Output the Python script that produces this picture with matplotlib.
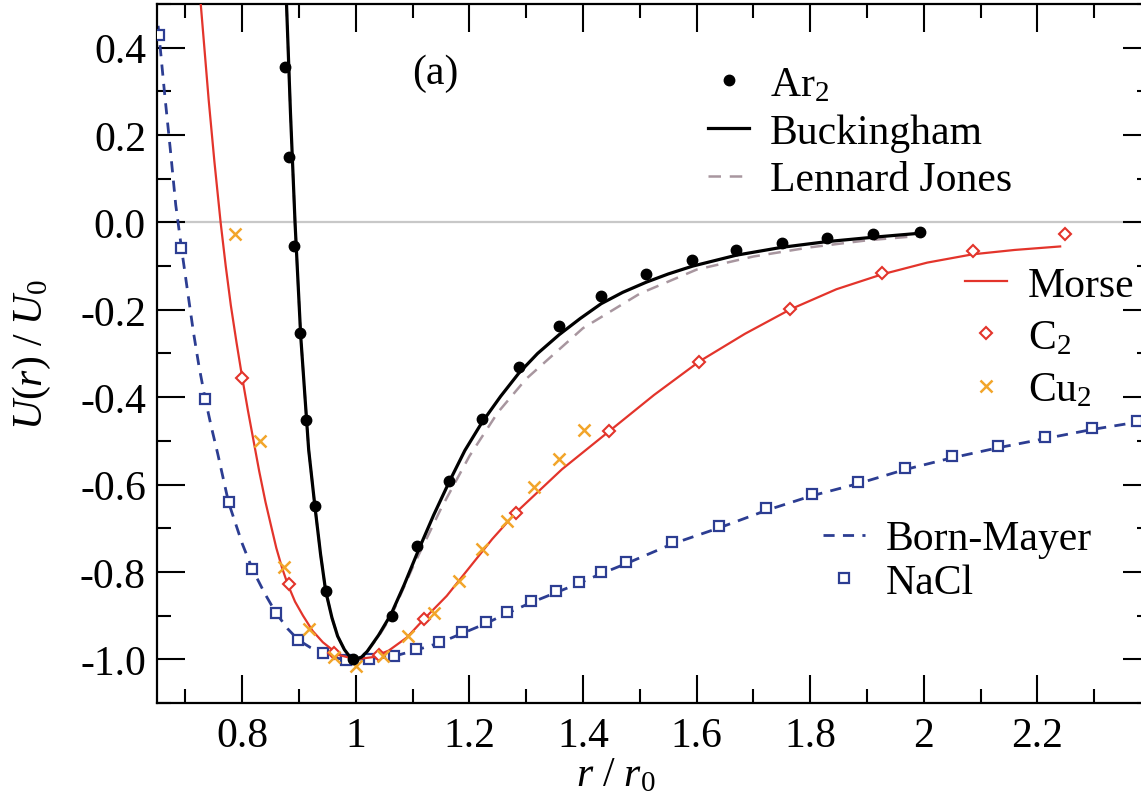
import matplotlib
matplotlib.use("Agg")
import matplotlib.pyplot as plt
from matplotlib.ticker import MultipleLocator, FuncFormatter

plt.rcParams['font.family'] = ['Liberation Serif', 'DejaVu Serif']
plt.rcParams['mathtext.fontset'] = 'custom'
plt.rcParams['mathtext.rm'] = 'Liberation Serif'
plt.rcParams['mathtext.it'] = 'Liberation Serif:italic'
plt.rcParams['axes.unicode_minus'] = False

# ---- data ----
ar2_r = [0.876, 0.883, 0.891, 0.902, 0.913, 0.928, 0.947, 0.995, 1.064, 1.108, 1.164, 1.222,
         1.287, 1.358, 1.432, 1.511, 1.592, 1.67, 1.75, 1.829, 1.91, 1.993]
ar2_u = [0.355, 0.149, -0.055, -0.252, -0.453, -0.65, -0.844, -1.0, -0.90, -0.741, -0.593, -0.451,
         -0.332, -0.238, -0.169, -0.119, -0.087, -0.062, -0.046, -0.035, -0.026, -0.021]

buck_r = [0.878, 0.885, 0.893, 0.903, 0.917, 0.928, 0.938, 0.947, 0.958, 0.968, 0.98, 0.99, 1.0,
          1.01, 1.02, 1.04, 1.062, 1.085, 1.111, 1.137, 1.164, 1.192, 1.222, 1.255, 1.287, 1.32,
          1.358, 1.395, 1.432, 1.47, 1.511, 1.55, 1.593, 1.67, 1.75, 1.829, 1.91, 2.0]
buck_u = [0.50, 0.25, 0.0, -0.26, -0.52, -0.65, -0.76, -0.844, -0.905, -0.947, -0.978, -0.995, -1.0,
          -0.995, -0.982, -0.945, -0.897, -0.83, -0.748, -0.67, -0.595, -0.522, -0.458, -0.398, -0.345, -0.30,
          -0.257, -0.22, -0.186, -0.16, -0.137, -0.118, -0.10, -0.075, -0.057, -0.044, -0.034, -0.024]

lj_r = [0.878, 0.885, 0.893, 0.903, 0.917, 0.928, 0.938, 0.947, 0.958, 0.968, 0.98, 0.99, 1.0,
        1.01, 1.02, 1.04, 1.062, 1.1, 1.15, 1.2, 1.25, 1.3, 1.4, 1.5, 1.6, 1.7, 1.8, 1.9, 2.0]
lj_u = [0.50, 0.25, 0.0, -0.26, -0.52, -0.65, -0.76, -0.844, -0.905, -0.947, -0.978, -0.995, -1.0,
        -0.995, -0.983, -0.948, -0.902, -0.79, -0.655, -0.535, -0.435, -0.358, -0.242, -0.163, -0.108,
        -0.078, -0.057, -0.041, -0.030]

morse_r = [0.727, 0.734, 0.741, 0.751, 0.762, 0.771, 0.78, 0.79, 0.80, 0.81, 0.82, 0.83, 0.841,
           0.85, 0.86, 0.87, 0.88, 0.893, 0.907, 0.924, 0.942, 0.97, 1.0,
           1.03, 1.058, 1.09, 1.12, 1.16, 1.20, 1.24, 1.282, 1.363, 1.446, 1.525, 1.605, 1.685,
           1.765, 1.846, 1.926, 2.006, 2.086, 2.16, 2.24]
morse_u = [0.50, 0.39, 0.28, 0.14, 0.0, -0.10, -0.19, -0.275, -0.355, -0.43, -0.50, -0.57, -0.64,
           -0.69, -0.745, -0.79, -0.828, -0.868, -0.90, -0.935, -0.961, -0.99, -1.0,
           -0.995, -0.98, -0.95, -0.908, -0.855, -0.79, -0.725, -0.664, -0.565, -0.478, -0.395, -0.318,
           -0.255, -0.199, -0.153, -0.119, -0.092, -0.073, -0.063, -0.055]

c2_r = [0.80, 0.882, 0.961, 1.04, 1.12, 1.282, 1.446, 1.605, 1.765, 1.926, 2.086, 2.249]
c2_u = [-0.355, -0.828, -0.985, -0.99, -0.908, -0.664, -0.478, -0.32, -0.199, -0.115, -0.066, -0.027]

cu2_r = [0.788, 0.832, 0.873, 0.917, 0.961, 1.0, 1.048, 1.092, 1.137, 1.182, 1.222, 1.266,
         1.314, 1.358, 1.402]
cu2_u = [-0.027, -0.50, -0.789, -0.931, -0.995, -1.015, -0.993, -0.947, -0.895, -0.821, -0.748,
         -0.684, -0.606, -0.542, -0.474]

bm_r = [0.652, 0.663, 0.674, 0.683, 0.693, 0.703, 0.714, 0.724, 0.735, 0.746, 0.757, 0.776, 0.80,
        0.818, 0.84, 0.859, 0.88, 0.899,
        0.92, 0.942, 0.962, 0.982, 1.0, 1.023, 1.067, 1.106, 1.146, 1.187, 1.229, 1.266, 1.309,
        1.353, 1.393, 1.432, 1.476, 1.557, 1.64, 1.723, 1.802, 1.884, 1.966, 2.049, 2.13, 2.213,
        2.296, 2.4]
bm_u = [0.45, 0.30, 0.16, 0.04, -0.058, -0.15, -0.25, -0.33, -0.405, -0.47, -0.53, -0.641, -0.735,
        -0.794, -0.85, -0.893, -0.93, -0.956,
        -0.973, -0.987, -0.997, -1.0, -1.0, -0.999, -0.993, -0.979, -0.963, -0.941, -0.918, -0.895, -0.87,
        -0.847, -0.826, -0.804, -0.781, -0.736, -0.699, -0.659, -0.626, -0.598, -0.566, -0.539, -0.516,
        -0.495, -0.474, -0.452]

nacl_r = [0.654, 0.693, 0.735, 0.776, 0.818, 0.859, 0.899, 0.942, 0.982, 1.023, 1.067, 1.106,
          1.146, 1.187, 1.229, 1.266, 1.309, 1.353, 1.393, 1.432, 1.476, 1.557, 1.640, 1.723,
          1.803, 1.884, 1.966, 2.049, 2.130, 2.213, 2.296, 2.376]
nacl_u = [0.43, -0.058, -0.405, -0.641, -0.794, -0.893, -0.956, -0.985, -1.002, -1.0, -0.993, -0.977,
          -0.961, -0.938, -0.915, -0.892, -0.867, -0.844, -0.824, -0.801, -0.778, -0.732, -0.696, -0.654,
          -0.622, -0.595, -0.561, -0.535, -0.512, -0.492, -0.471, -0.455]

# colours
c_lj = '#a8969f'
c_red = '#e3342b'
c_orange = '#f2a52a'
c_blue = '#2c3d92'

fig = plt.figure(figsize=(11.41, 8.03), dpi=100)
ax = fig.add_axes([0.1376, 0.1233, 0.8712, 0.8705])

ax.axhline(0, color='#c8c8c8', lw=1.6, zorder=1)

# Born-Mayer / NaCl
bm_line, = ax.plot(bm_r, bm_u, color=c_blue, lw=2.0, ls=(0, (4, 3)), zorder=2, label='Born-Mayer')
nacl_pts, = ax.plot(nacl_r, nacl_u, ls='none', marker='s', ms=7, mfc='white', mec=c_blue, mew=1.6,
                    zorder=3, label='NaCl')

# Morse / C2 / Cu2
morse_line, = ax.plot(morse_r, morse_u, color=c_red, lw=1.6, zorder=4, label='Morse')
c2_pts, = ax.plot(c2_r, c2_u, ls='none', marker='D', ms=6.5, mfc='white', mec=c_red, mew=1.5,
                  zorder=5, label='C$_2$')
cu2_pts, = ax.plot(cu2_r, cu2_u, ls='none', marker='x', ms=9, mec=c_orange, mew=1.8,
                   zorder=5, label='Cu$_2$')

# Buckingham / Lennard Jones / Ar2
lj_line, = ax.plot(lj_r, lj_u, color=c_lj, lw=1.8, ls=(0, (5, 3.5)), zorder=6, label='Lennard Jones')
buck_line, = ax.plot(buck_r, buck_u, color='black', lw=2.3, zorder=7, label='Buckingham')
ar2_pts, = ax.plot(ar2_r, ar2_u, ls='none', marker='o', ms=7.5, color='black', zorder=8, label='Ar$_2$')

ax.set_xlim(0.65, 2.4)
ax.set_ylim(-1.1, 0.5)


def xfmt(v, p):
    if v > 2.3:
        return ''
    return '%g' % round(v, 2)


ax.xaxis.set_major_locator(MultipleLocator(0.2))
ax.xaxis.set_minor_locator(MultipleLocator(0.1))
ax.yaxis.set_major_locator(MultipleLocator(0.2))
ax.yaxis.set_minor_locator(MultipleLocator(0.1))
ax.xaxis.set_major_formatter(FuncFormatter(xfmt))
ax.yaxis.set_major_formatter(FuncFormatter(lambda v, p: '%.1f' % v))

ax.tick_params(which='both', direction='in', top=True, right=True, width=1.5, labelsize=30)
ax.tick_params(which='major', length=20)
ax.tick_params(which='minor', length=10)
ax.tick_params(axis='x', pad=10)
ax.tick_params(axis='y', pad=8)
for s in ax.spines.values():
    s.set_linewidth(1.6)

ax.set_xlabel(r'$r\ /\ r_0$', fontsize=30)
ax.set_ylabel(r'$U(r)\ /\ U_0$', fontsize=30)
ax.xaxis.set_label_coords(0.461, -0.075)
ax.yaxis.set_label_coords(-0.105, 0.50)

ax.text(1.14, 0.343, '(a)', fontsize=30, ha='center', va='center')

leg_kw = dict(frameon=False, fontsize=30, handlelength=1.0, handletextpad=0.5,
              borderpad=0, borderaxespad=0, numpoints=1, loc='upper left')
leg1 = ax.legend(handles=[ar2_pts, buck_line, lj_line], bbox_to_anchor=(0.554, 0.912),
                 labelspacing=0.22, **leg_kw)
ax.add_artist(leg1)
leg2 = ax.legend(handles=[morse_line, c2_pts, cu2_pts], bbox_to_anchor=(0.813, 0.625),
                 labelspacing=0.33, **leg_kw)
ax.add_artist(leg2)
leg3 = ax.legend(handles=[bm_line, nacl_pts], bbox_to_anchor=(0.670, 0.262),
                 labelspacing=0.12, **leg_kw)

fig.savefig('out.png', dpi=100)
